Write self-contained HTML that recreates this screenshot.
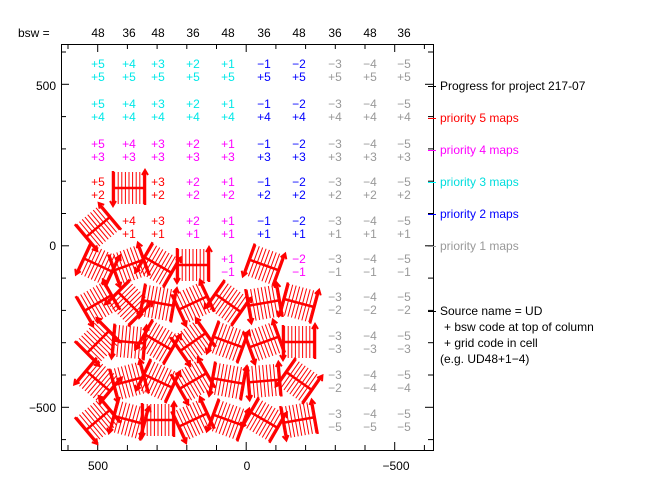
<!DOCTYPE html>
<html><head><meta charset="utf-8"><style>
html,body{margin:0;padding:0;background:#fff;}
svg{display:block;font-family:"Liberation Sans",sans-serif;}
</style></head><body>
<svg id="s" width="651" height="483" viewBox="0 0 651 483" xmlns="http://www.w3.org/2000/svg">
<rect x="0" y="0" width="651" height="483" fill="#fff"/>
<g stroke="#000" stroke-width="1" fill="none" id="ax">
<rect x="61.5" y="44.5" width="372" height="406"/>
</g>
<g id="txt" font-size="12" text-anchor="middle"></g>
<g id="gl" stroke="#f00" fill="none"></g>
<g font-size="12" fill="#000">
<text x="18" y="37">bsw =</text>
<text x="98" y="470" text-anchor="middle">500</text>
<text x="247" y="470" text-anchor="middle">0</text>
<text x="396" y="470" text-anchor="middle">−500</text>
<text x="56" y="90" text-anchor="end">500</text>
<text x="56" y="250" text-anchor="end">0</text>
<text x="56" y="412" text-anchor="end">−500</text>
<line x1="428" y1="86.5" x2="436" y2="86.5" stroke="#000"/>
<text x="440" y="90">Progress for project 217-07</text>
<line x1="428" y1="118.5" x2="436" y2="118.5" stroke="#f00"/>
<text x="440" y="122" fill="#f00">priority 5 maps</text>
<line x1="428" y1="150.5" x2="436" y2="150.5" stroke="#f0f"/>
<text x="440" y="154" fill="#f0f">priority 4 maps</text>
<line x1="428" y1="182.5" x2="436" y2="182.5" stroke="#0ff"/>
<text x="440" y="186" fill="#0dd">priority 3 maps</text>
<line x1="428" y1="214.5" x2="436" y2="214.5" stroke="#00f"/>
<text x="440" y="218" fill="#00f">priority 2 maps</text>
<line x1="428" y1="246.5" x2="436" y2="246.5" stroke="#999"/>
<text x="440" y="250" fill="#999">priority 1 maps</text>
<line x1="428" y1="311.5" x2="436" y2="311.5" stroke="#000"/>
<text x="440" y="315">Source name = UD</text>
<text x="444" y="331">+ bsw code at top of column</text>
<text x="444" y="347">+ grid code in cell</text>
<text x="440" y="363">(e.g. UD48+1−4)</text>
</g>
</svg>
<script>
var NS="http://www.w3.org/2000/svg";
function el(p,t,a,txt){var e=document.createElementNS(NS,t);for(var k in a)e.setAttribute(k,a[k]);if(txt!=null)e.textContent=txt;p.appendChild(e);return e;}
var ax=document.getElementById('ax');
for(var i=0;i<13;i++){var x=68+i*29.7;var big=(Math.abs(x-98)<2||Math.abs(x-247)<2||Math.abs(x-396)<2);var L=big?8:5;
el(ax,'line',{x1:x,y1:450,x2:x,y2:450-L});el(ax,'line',{x1:x,y1:44,x2:x,y2:44+L});}
for(var j=0;j<13;j++){var y=52+j*32.3;var big=(Math.abs(y-86)<3||Math.abs(y-246)<3||Math.abs(y-408)<3);var L=big?8:5;
el(ax,'line',{x1:61,y1:y,x2:61+L,y2:y});el(ax,'line',{x1:433,y1:y,x2:433-L,y2:y});}
var cx=[98,129,158,193,228,264,299,335,370,404];
var ry=[70,110,150,188,227,265,303,342,381,420];
var tops=['+5','+4','+3','+2','+1','−1','−2','−3','−4','−5'];
var bsw=['48','36','48','36','48','36','48','36','48','36'];
var txt=document.getElementById('txt');
for(var i=0;i<10;i++)el(txt,'text',{x:cx[i],y:37,fill:'#000'},bsw[i]);
var bot=['+5','+4','+3','+2','+1','−1','−2','−3','−4','−5'];
var C={c:'#00e8e8',b:'#0000ff',g:'#999999',m:'#ff00ff',r:'#ff0000'};
var grid=[
'cccccbbggg','cccccbbggg','mmmmmbbggg','rXrmmbbggg','Xrrmmbbggg',
'XXXXmXmggg','XXXXXXXggg','XXXXXXXggg','XXXXXXXggg','XXXXXXXggg'];
var botOverride={'8,7':'−2','8,8':'−4','8,9':'−4','6,7':'−2','6,8':'−2','6,9':'−2'};
var gl=document.getElementById('gl');
var ang=[0,-40,25,-20,30,0,20,-30,45,10,-25,35,-10,15,-45,5,30,-35,20,-20,0,40,-15,25,-30,10,-5,35,-40,15,0,-25,20,30,-10,45,-20,5,25,-35,0,15,-30];
var ai=0;
function glyph(x,y,a){
var g=el(gl,'g',{transform:'translate('+x+','+y+') rotate('+a+')'});
for(var k=-4;k<=4;k++){var xx=k*3.6;el(g,'line',{x1:xx,y1:-16,x2:xx,y2:16,'stroke-width':1});}
el(g,'line',{x1:-16,y1:-17,x2:-16,y2:17,'stroke-width':2.5});
el(g,'line',{x1:16,y1:-17,x2:16,y2:17,'stroke-width':2.5});
el(g,'line',{x1:-16,y1:0,x2:16,y2:0,'stroke-width':2.5});
el(g,'path',{d:'M-19,13 L-16,18 L-13,13 M13,-13 L16,-18 L19,-13','stroke-width':2});
}
for(var r=0;r<10;r++){for(var c=0;c<10;c++){var t=grid[r][c];
if(t==='X'){glyph(cx[c],ry[r],ang[ai++%ang.length]);continue;}
var col=C[t];
el(txt,'text',{x:cx[c],y:ry[r]-2,fill:col},tops[c]);
var b=botOverride[r+','+c]||bot[r];
el(txt,'text',{x:cx[c],y:ry[r]+11,fill:col},b);}}
</script>
</body></html>
